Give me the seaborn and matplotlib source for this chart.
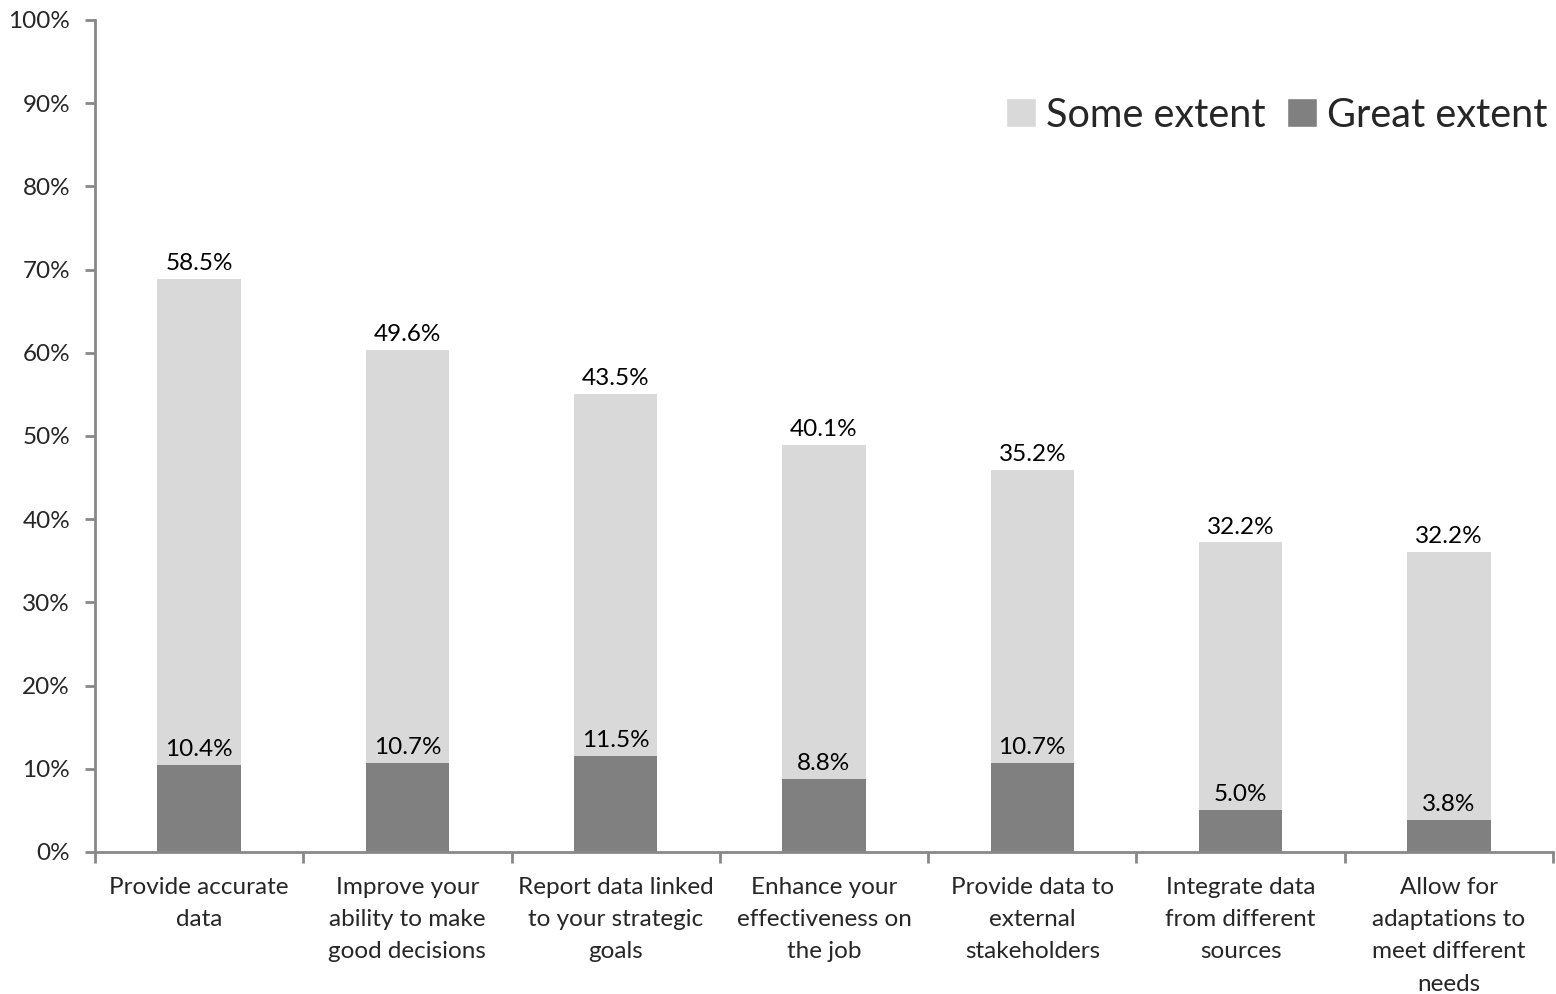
import matplotlib
matplotlib.use("Agg")
import matplotlib.pyplot as plt
import seaborn as sns
import pandas as pd
import numpy as np
from matplotlib.patches import Patch

categories = [
    "Provide accurate\ndata",
    "Improve your\nability to make\ngood decisions",
    "Report data linked\nto your strategic\ngoals",
    "Enhance your\neffectiveness on\nthe job",
    "Provide data to\nexternal\nstakeholders",
    "Integrate data\nfrom different\nsources",
    "Allow for\nadaptations to\nmeet different\nneeds",
]
some_extent = [58.5, 49.6, 43.5, 40.1, 35.2, 32.2, 32.2]
great_extent = [10.4, 10.7, 11.5, 8.8, 10.7, 5.0, 3.8]

sns.set_style("white")
plt.rcParams['font.family'] = ['Lato', 'DejaVu Sans']

df = pd.DataFrame({"cat": categories, "some": some_extent, "great": great_extent})
df["total"] = df["some"] + df["great"]

fig = plt.figure(figsize=(15.56, 9.94), dpi=100)
ax = fig.add_axes([95/1556, 1 - 852/994, (1553-95)/1556, (852-20)/994])

light = "#d9d9d9"
dark = "#808080"
sns.barplot(data=df, x="cat", y="total", color=light, width=0.4, ax=ax, saturation=1, linewidth=0)
sns.barplot(data=df, x="cat", y="great", color=dark, width=0.4, ax=ax, saturation=1, linewidth=0)

fs = 17.5
for i, r in df.iterrows():
    ax.text(i, r["total"] + 0.6, f"{r['some']:.1f}%", ha="center", va="bottom", fontsize=fs, color="black")
    ax.text(i, r["great"] + 0.6, f"{r['great']:.1f}%", ha="center", va="bottom", fontsize=fs, color="black")

ax.set_ylim(0, 100)
ax.set_xlim(-0.5, len(categories) - 0.5)
ax.set_yticks(np.arange(0, 101, 10))
ax.set_yticklabels([f"{v}%" for v in range(0, 101, 10)], fontsize=fs)
ax.set_xticks(range(len(categories)))
ax.set_xticklabels(categories, fontsize=fs, linespacing=1.66)
ax.tick_params(axis="x", length=0, pad=18)
ax.tick_params(axis="y", length=7, width=2, color="#888888", direction="out", pad=11, left=True)
# category boundary ticks
ax.set_xticks(np.arange(-0.5, len(categories), 1), minor=True)
ax.tick_params(axis="x", which="minor", length=8, width=2, color="#888888", direction="out", bottom=True)

ax.set_xlabel("")
ax.set_ylabel("")
for s in ["top", "right"]:
    ax.spines[s].set_visible(False)
for s in ["left", "bottom"]:
    ax.spines[s].set_color("#888888")
    ax.spines[s].set_linewidth(2)

handles = [Patch(facecolor=light, label="Some extent"), Patch(facecolor=dark, label="Great extent")]
ax.legend(handles=handles, loc="upper right", bbox_to_anchor=(1.007, 0.927), ncol=2, frameon=False,
          fontsize=28.5, handlelength=0.75, handleheight=0.75, handletextpad=0.25, columnspacing=0.55,
          borderaxespad=0)

fig.savefig("out.png", dpi=100)
